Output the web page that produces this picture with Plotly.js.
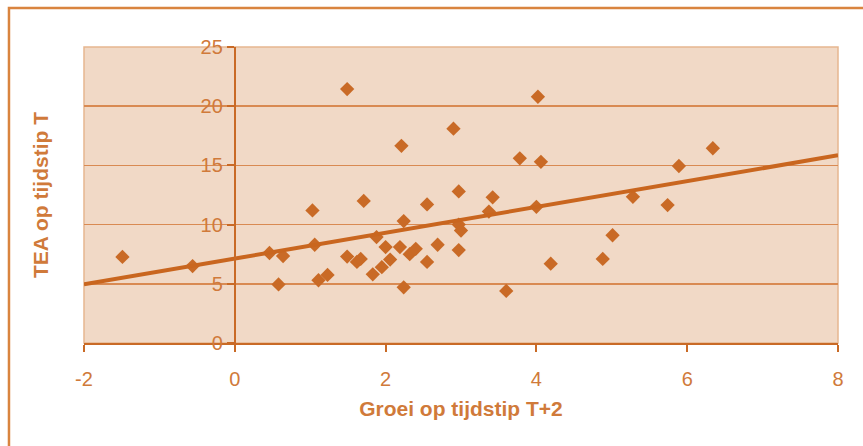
<!DOCTYPE html>
<html>
<head>
<meta charset="utf-8">
<script src="https://cdn.plot.ly/plotly-3.0.1.min.js"></script>
<style>html,body{margin:0;padding:0;background:#fff;}#chart{width:863px;height:446px;}</style>
</head>
<body>
<div id="chart"></div>
<script>
// Data
const groeiX = [-1.49, -0.56, 0.46, 0.64, 0.58, 1.03, 1.06, 1.11, 1.23, 1.49,
  1.49, 1.62, 1.67, 1.71, 1.83, 1.88, 1.95, 2.00, 2.06, 2.19,
  2.21, 2.24, 2.24, 2.32, 2.40, 2.55, 2.55, 2.69, 2.90, 2.97,
  2.97, 3.00, 2.97, 3.37, 3.42, 3.60, 3.78, 4.02, 4.00, 4.06,
  4.19, 4.88, 5.01, 5.28, 5.74, 5.89, 6.34];
const teaY = [7.27, 6.5, 7.6, 7.35, 4.95, 11.2, 8.3, 5.3, 5.75, 21.45,
  7.3, 6.85, 7.1, 12.0, 5.8, 8.95, 6.4, 8.1, 7.05, 8.1,
  16.65, 10.3, 4.7, 7.5, 7.95, 11.7, 6.85, 8.3, 18.1, 12.8,
  10.0, 9.5, 7.85, 11.1, 12.3, 4.4, 15.6, 20.8, 11.5, 15.3,
  6.7, 7.1, 9.1, 12.35, 11.65, 14.95, 16.45];
const trendX = [-2, 8];
const trendY = [4.95, 15.85];
const xTicks = [-2, 0, 2, 4, 6, 8];
const xTickText = ['-2', '0', '2', '4', '6', '8'];
const yTicks = [0, 5, 10, 15, 20, 25];
const yTickText = ['0', '5', '10', '15', '20', '25'];

const txt = '#d07a3a';
const mark = '#c96a26';
const fontFam = 'Liberation Sans, Arial, sans-serif';

const traces = [
  {x: groeiX, y: teaY, type: 'scatter', mode: 'markers', yaxis: 'y',
   marker: {symbol: 'diamond', size: 11, color: mark}, hoverinfo: 'x+y'},
  {x: trendX, y: trendY, type: 'scatter', mode: 'lines', yaxis: 'y2',
   line: {color: '#c9661f', width: 4}, hoverinfo: 'skip'}
];

const layout = {
  width: 863, height: 446,
  margin: {l: 84, r: 25, t: 47, b: 103},
  paper_bgcolor: '#ffffff',
  plot_bgcolor: '#f1d9c6',
  showlegend: false,
  font: {family: fontFam, color: txt},
  xaxis: {
    range: [-2, 8], tickvals: xTicks, ticktext: xTickText, showgrid: false, zeroline: false,
    showline: true, linecolor: mark, linewidth: 2,
    ticks: 'outside', ticklen: 7, tickwidth: 2, tickcolor: mark,
    tickfont: {size: 20, color: txt, family: fontFam},
    ticklabelstandoff: 10,
    title: {text: 'Groei op tijdstip T+2', standoff: 12,
            font: {size: 21, color: txt, family: fontFam, weight: 'bold'}}
  },
  yaxis: {
    range: [0, 25], tickvals: yTicks, showgrid: true, gridcolor: '#d98a52', gridwidth: 1.5,
    zeroline: false, showline: false, showticklabels: false, ticks: '',
    title: {text: 'TEA op tijdstip T', standoff: 28,
            font: {size: 21, color: txt, family: fontFam, weight: 'bold'}}
  },
  yaxis2: {
    overlaying: 'y', anchor: 'free', position: 0.2, side: 'left',
    range: [0, 25], tickvals: yTicks, ticktext: yTickText, showgrid: false, zeroline: false,
    showline: true, linecolor: mark, linewidth: 2,
    ticks: 'outside', ticklen: 7, tickwidth: 2, tickcolor: mark,
    tickfont: {size: 20, color: txt, family: fontFam}
  },
  shapes: [
    {type: 'rect', xref: 'paper', yref: 'paper', x0: 0, x1: 1, y0: 0, y1: 1,
     line: {color: '#e6b690', width: 1.5}, layer: 'below'},
    {type: 'rect', xref: 'paper', yref: 'paper', x0: -0.0995, x1: 1.2, y0: -0.6, y1: 1.132,
     line: {color: '#d9843f', width: 2.5}}
  ]
};

Plotly.newPlot('chart', traces, layout, {displayModeBar: false, staticPlot: true});
</script>
</body>
</html>
